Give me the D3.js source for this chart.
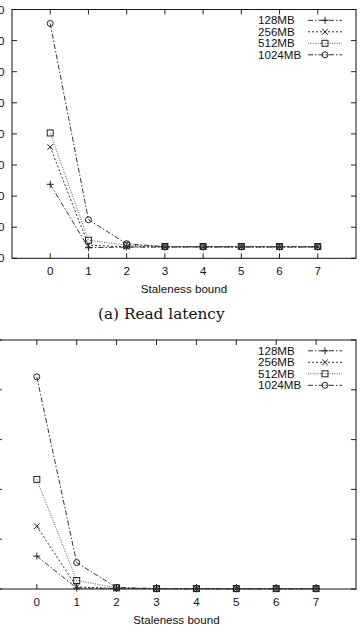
<!DOCTYPE html>
<html><head><meta charset="utf-8">
<script src="https://cdn.jsdelivr.net/npm/d3@7"></script>
<style>html,body{margin:0;padding:0;background:#fff;overflow:hidden}svg{display:block}</style>
</head><body>
<script>
// ---- data ----
const staleness = [0, 1, 2, 3, 4, 5, 6, 7];
const xTicks = [0, 1, 2, 3, 4, 5, 6, 7];
const seriesNames = ["128MB", "256MB", "512MB", "1024MB"];
// (a) Read latency
const read128  = [238, 34, 36, 36, 36, 36, 36, 36];
const read256  = [358, 42, 37, 37, 37, 37, 37, 37];
const read512  = [403, 58, 42, 38, 38, 38, 38, 38];
const read1024 = [755, 124, 47, 37, 37, 37, 37, 37];
const readYTicks = [0, 100, 200, 300, 400, 500, 600, 700, 800];
// (b) second panel
const b128  = [33, 1, 0.5, 0.3, 0.3, 0.3, 0.3, 0.3];
const b256  = [63, 2, 0.6, 0.3, 0.3, 0.3, 0.3, 0.3];
const b512  = [110, 8.5, 1.2, 0.4, 0.4, 0.4, 0.4, 0.4];
const b1024 = [213, 26.5, 1.5, 0.5, 0.4, 0.4, 0.4, 0.4];
const bYTicks = [0, 50, 100, 150, 200, 250];

const W = 360, H = 635;
const svg = d3.select("body").append("svg").attr("width", W).attr("height", H);
const FONT = "'Liberation Sans', Arial, sans-serif";
const styles = [
  {dash: "5,2,1.5,2", marker: "plus", stroke: "#333"},
  {dash: "2,2", marker: "cross", stroke: "#333"},
  {dash: "1,1.4", marker: "square", stroke: "#555"},
  {dash: "5,2,1.5,2", marker: "circle", stroke: "#333"}
];

function marker(g, type, x, y, col) {
  if (type === "plus") {
    g.append("path").attr("d", `M${x-3.5},${y}H${x+3.5}M${x},${y-3.5}V${y+3.5}`).attr("stroke", col).attr("stroke-width", 1).attr("fill", "none");
  } else if (type === "cross") {
    g.append("path").attr("d", `M${x-2.8},${y-2.8}L${x+2.8},${y+2.8}M${x-2.8},${y+2.8}L${x+2.8},${y-2.8}`).attr("stroke", col).attr("stroke-width", 1).attr("fill", "none");
  } else if (type === "square") {
    g.append("rect").attr("x", x-3).attr("y", y-3).attr("width", 6).attr("height", 6).attr("stroke", col).attr("stroke-width", 1).attr("fill", "none");
  } else {
    g.append("circle").attr("cx", x).attr("cy", y).attr("r", 3).attr("stroke", col).attr("stroke-width", 1).attr("fill", "none");
  }
}

function panel(cfg) {
  const g = svg.append("g");
  const x = d3.scaleLinear().domain([-1, 8]).range([cfg.left, cfg.right]);
  const y = d3.scaleLinear().domain([0, cfg.ymax]).range([cfg.bottom, cfg.top]);
  const tl = 5;
  // ticks
  cfg.yTicks.forEach(v => {
    g.append("line").attr("x1", cfg.left).attr("x2", cfg.left + tl).attr("y1", y(v)).attr("y2", y(v)).attr("stroke", "#222");
    g.append("line").attr("x1", cfg.right).attr("x2", cfg.right - tl).attr("y1", y(v)).attr("y2", y(v)).attr("stroke", "#222");
    g.append("text").attr("x", cfg.left - 7.5).attr("y", y(v) + 4).attr("text-anchor", "end")
      .attr("font-family", FONT).attr("font-size", 11.6).attr("fill", "#111").text(v);
  });
  xTicks.forEach(v => {
    g.append("line").attr("x1", x(v)).attr("x2", x(v)).attr("y1", cfg.bottom).attr("y2", cfg.bottom - tl).attr("stroke", "#222");
    g.append("line").attr("x1", x(v)).attr("x2", x(v)).attr("y1", cfg.top).attr("y2", cfg.top + tl).attr("stroke", "#222");
    g.append("text").attr("x", x(v)).attr("y", cfg.bottom + 16.5).attr("text-anchor", "middle")
      .attr("font-family", FONT).attr("font-size", 11.6).attr("fill", "#111").text(v);
  });
  g.append("rect").attr("x", cfg.left).attr("y", cfg.top).attr("width", cfg.right - cfg.left).attr("height", cfg.bottom - cfg.top)
    .attr("fill", "none").attr("stroke", "#111").attr("stroke-width", 1);
  g.append("text").attr("x", (cfg.left + cfg.right) / 2).attr("y", cfg.bottom + 34.5).attr("text-anchor", "middle")
    .attr("font-family", FONT).attr("font-size", 11.6).attr("fill", "#111").text("Staleness bound");
  // series
  const line = d3.line().x((d, i) => x(staleness[i])).y(d => y(d));
  cfg.series.forEach((s, k) => {
    const st = styles[k];
    g.append("path").datum(s).attr("d", line).attr("fill", "none").attr("stroke", st.stroke)
      .attr("stroke-width", 1).attr("stroke-dasharray", st.dash);
    s.forEach((v, i) => marker(g, st.marker, x(staleness[i]), y(v), "#222"));
  });
  // legend
  seriesNames.forEach((n, k) => {
    const ly = cfg.top + 10.8 + k * 11.5;
    const st = styles[k];
    g.append("text").attr("x", 258).attr("y", ly + 4).attr("font-family", FONT).attr("font-size", 11.6).attr("fill", "#111").text(n);
    g.append("line").attr("x1", 308).attr("x2", 342).attr("y1", ly).attr("y2", ly).attr("stroke", st.stroke)
      .attr("stroke-width", 1).attr("stroke-dasharray", st.dash);
    marker(g, st.marker, 325, ly, "#222");
  });
}

panel({left: 12, right: 356, top: 9.5, bottom: 258.3, ymax: 800, yTicks: readYTicks,
  series: [read128, read256, read512, read1024]});
svg.append("text").attr("x", 98).attr("y", 318.5).attr("font-family", "'DejaVu Serif', serif")
  .attr("font-size", 15.3).attr("fill", "#111").text("(a) Read latency");
panel({left: -3.1, right: 356, top: 340, bottom: 589, ymax: 250, yTicks: bYTicks,
  series: [b128, b256, b512, b1024]});
</script>
</body></html>
